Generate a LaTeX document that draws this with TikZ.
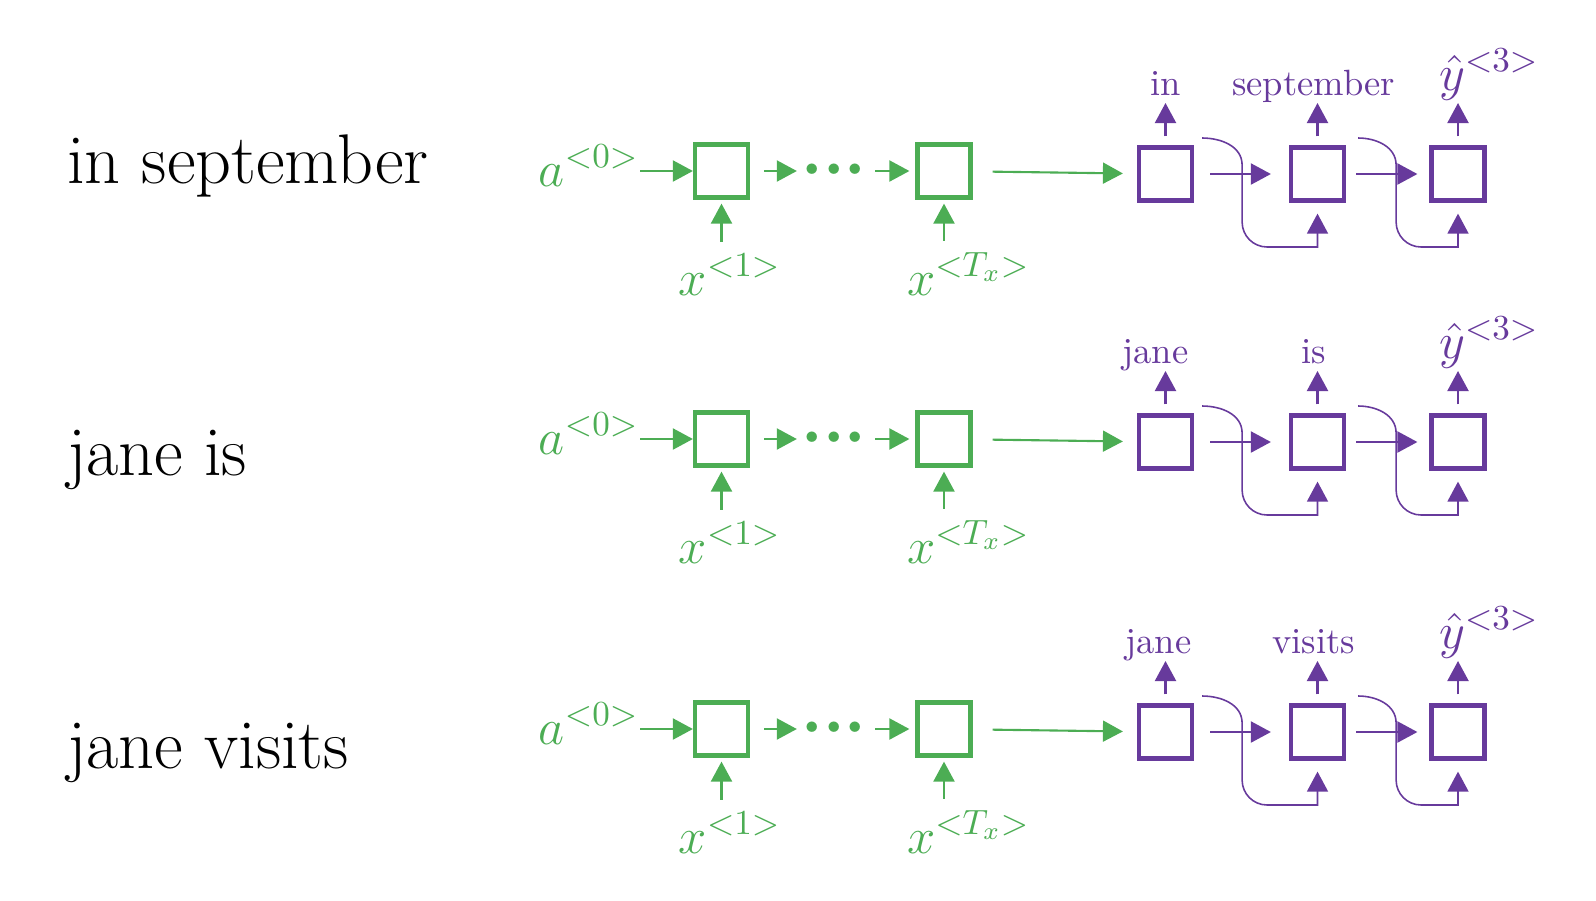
\documentclass[tikz,border=0pt]{standalone}
\usetikzlibrary{arrows.meta,calc,positioning}
\definecolor{rnngreen}{RGB}{76,173,84}
\definecolor{rnnpurple}{RGB}{103,58,156}

\begin{document}
\begin{tikzpicture}[
  line width=0.6pt,
  cell/.style={draw, line width=1.2pt, minimum size=0.53cm, inner sep=0pt},
  enc/.style={cell, draw=rnngreen},
  dec/.style={cell, draw=rnnpurple},
  garr/.style={-{Triangle[length=2mm, width=2.1mm]}, draw=rnngreen},
  parr/.style={-{Triangle[length=2mm, width=2.1mm]}, draw=rnnpurple},
  fb/.style={parr, line width=0.45pt},
  sent/.style={font=\fontsize{20}{24}\selectfont, anchor=base west, inner sep=0pt},
  glbl/.style={font=\fontsize{14.8}{18}\selectfont, text=rnngreen, inner sep=0pt},
  plbl/.style={glbl, text=rnnpurple},
  elide/.style={font=\fontsize{11}{11}\selectfont, text=rnngreen, inner sep=0pt, minimum width=0.68cm},
  wlbl/.style={font=\fontsize{10.4}{12}\selectfont, text=rnnpurple, anchor=base, inner sep=0pt},
]
\useasboundingbox (0,0) rectangle (15.96,-9);

% one row per partial translation: row / box centre y / sentence base y / shift of 1st word / words
\foreach \r/\yc/\ys/\dw/\wa/\wb in {1/1.71/1.83/0/in/september,
                                     2/4.39/4.75/-0.1/jane/is,
                                     3/7.29/7.68/-0.07/jane/visits} {
  % ---------------- sentence on the left ----------------
  \node[sent] (s\r) at (0.66,-\ys) {\wa\ \wb};

  % ---------------- encoder (green) ----------------
  \node[enc] (b\r1) at (7.215,-\yc) {};
  \node[enc] (b\r2) at (9.44,-\yc) {};
  \node[elide] (dt\r) at ($(b\r1)+(1.125,0)$)
    {\textbullet\kern-2.3pt\textbullet\kern-2.3pt\textbullet};
  \node[glbl, anchor=base east] (a\r) at ($(b\r1)+(-0.815,-0.15)$) {$a^{<0>}$};
  \node[glbl, anchor=base] (x\r1) at ($(b\r1)+(0.085,-1.24)$) {$x^{<1>}$};
  \node[glbl, anchor=base] (x\r2) at ($(b\r2)+(0.245,-1.24)$) {$x^{<T_x>}$};

  \draw[garr] (a\r.east |- b\r1) -- (b\r1);
  \draw[garr, shorten <=0.14cm] (b\r1) -- (dt\r);
  \draw[garr, shorten <=0.04cm, shorten >=0.06cm] (dt\r) -- (b\r2);
  \draw[garr, shorten <=0.11cm, shorten >=0.04cm] (b\r1.south |- x\r1.north) -- (b\r1.south);
  \draw[garr, shorten <=0.11cm, shorten >=0.04cm] (b\r2.south |- x\r2.north) -- (b\r2.south);

  % ---------------- decoder (purple) ----------------
  \node[dec] (d\r1) at ($(b\r2)+(2.215,-0.03)$) {};
  \node[dec] (d\r2) at ($(d\r1)+(1.52,0)$) {};
  \node[dec] (d\r3) at ($(d\r2)+(1.405,0)$) {};
  \draw[garr, shorten <=0.2cm, shorten >=0.14cm] (b\r2) -- (d\r1);

  \node[wlbl] (w\r1) at ($(d\r1)+(\dw,0.79)$) {\wa};
  \node[wlbl] (w\r2) at ($(d\r2)+(-0.04,0.79)$) {\wb};
  \node[plbl, anchor=base west] (yh\r) at ($(d\r3)+(-0.2,0.84)$) {$\hat{y}^{<3>}$};

  \draw[parr, shorten <=0.09cm, shorten >=0.08cm] (d\r1.north) -- (d\r1.north |- w\r1.base);
  \draw[parr, shorten <=0.09cm, shorten >=0.08cm] (d\r2.north) -- (d\r2.north |- w\r2.base);
  \draw[parr, shorten <=0.09cm, shorten >=0.13cm] (d\r3.north) -- (d\r3.north |- yh\r.base);

  \draw[parr, shorten <=0.16cm, shorten >=0.18cm] (d\r1) -- (d\r2);
  \draw[parr, shorten <=0.10cm, shorten >=0.12cm] (d\r2) -- (d\r3);

  % previous output fed back as next input
  \coordinate (f\r1) at ($(d\r1.east)+(0.08,0.36)$);
  \coordinate (f\r2) at ($(d\r2.east)+(0.12,0.36)$);
  \draw[fb, shorten >=0.11cm] (f\r1) to[out=0,in=90] ++(0.40,-0.27) -- ++(0,-0.57)
    to[out=-90,in=180] ++(0.25,-0.25) -| (d\r2.south);
  \draw[fb, shorten >=0.11cm] (f\r2) to[out=0,in=90] ++(0.38,-0.27) -- ++(0,-0.57)
    to[out=-90,in=180] ++(0.25,-0.25) -| (d\r3.south);
}

\end{tikzpicture}
\end{document}
